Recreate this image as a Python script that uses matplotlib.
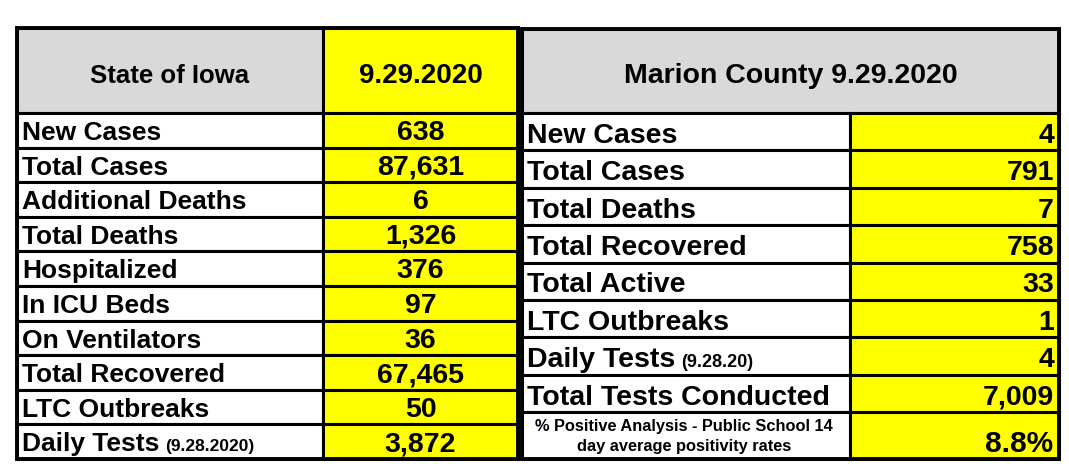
import matplotlib
matplotlib.use("Agg")
import matplotlib.pyplot as plt
from matplotlib.patches import Rectangle

plt.rcParams['font.family'] = ['Liberation Sans', 'DejaVu Sans']
plt.rcParams['font.weight'] = 'bold'

# State table
iowa_title = "State of Iowa"
iowa_date = "9.29.2020"
iowa_labels = ["New Cases", "Total Cases", "Additional Deaths", "Total Deaths",
               "Hospitalized", "In ICU Beds", "On Ventilators", "Total Recovered",
               "LTC Outbreaks", "Daily Tests"]
iowa_values = [638, 87631, 6, 1326, 376, 97, 36, 67465, 50, 3872]
iowa_notes = ["", "", "", "", "", "", "", "", "", "(9.28.2020)"]

# County table
marion_title = "Marion County 9.29.2020"
marion_labels = ["New Cases", "Total Cases", "Total Deaths", "Total Recovered",
                 "Total Active", "LTC Outbreaks", "Daily Tests", "Total Tests Conducted"]
marion_values = [4, 791, 7, 758, 33, 1, 4, 7009]
marion_notes = ["", "", "", "", "", "", "(9.28.20)", ""]
positivity_label = "% Positive Analysis - Public School 14\nday average positivity rates"
positivity_value = 8.8

YELLOW = "#FFFF00"
GRAY = "#D9D9D9"
LW = 2.2


def cell(ax, x0, y0, x1, y1, color):
    ax.add_patch(Rectangle((x0, y0), x1 - x0, y1 - y0, facecolor=color,
                           edgecolor="black", lw=LW, zorder=1))


def border(ax, x0, y0, x1, y1):
    ax.add_patch(Rectangle((x0, y0), x1 - x0, y1 - y0, fill=False,
                           edgecolor="black", lw=2.8, zorder=3))


fig = plt.figure(figsize=(10.69, 4.71), dpi=100)
ax = fig.add_axes([0, 0, 1, 1])
ax.set_xlim(0, 1069)
ax.set_ylim(471, 0)
ax.axis("off")

notes_to_place = []

# ---- left table ----
lx0, lx1, lx2 = 17, 323, 518
ltop, lhead, lbot = 28, 113, 459
cell(ax, lx0, ltop, lx1, lhead, GRAY)
cell(ax, lx1, ltop, lx2, lhead, YELLOW)
ax.text((lx0 + lx1) / 2, 83, iowa_title, fontsize=18.5, ha="center", va="baseline")
ax.text((lx1 + lx2) / 2, 83, iowa_date, fontsize=20, ha="center", va="baseline")

rh = (lbot - lhead) / len(iowa_labels)
for i, (lab, val, note) in enumerate(zip(iowa_labels, iowa_values, iowa_notes)):
    y0 = lhead + i * rh
    cell(ax, lx0, y0, lx1, y0 + rh, "white")
    cell(ax, lx1, y0, lx2, y0 + rh, YELLOW)
    yb = y0 + rh * 0.78
    t = ax.text(lx0 + 5, yb, lab, fontsize=19, ha="left", va="baseline")
    ax.text((lx1 + lx2) / 2, yb, f"{val:,}", fontsize=20.5, ha="center", va="baseline")
    if note:
        notes_to_place.append((t, yb, note, 12.5))
border(ax, lx0, ltop, lx2, lbot)

# ---- right table ----
rx0, rx1, rx2 = 522, 850, 1059
rtop, rhead, rlast, rbot = 29, 113, 412, 459
cell(ax, rx0, rtop, rx2, rhead, GRAY)
ax.text((rx0 + rx2) / 2, 83, marion_title, fontsize=20.5, ha="center", va="baseline")

rh2 = (rlast - rhead) / len(marion_labels)
for i, (lab, val, note) in enumerate(zip(marion_labels, marion_values, marion_notes)):
    y0 = rhead + i * rh2
    cell(ax, rx0, y0, rx1, y0 + rh2, "white")
    cell(ax, rx1, y0, rx2, y0 + rh2, YELLOW)
    yb = y0 + rh2 * 0.8
    t = ax.text(rx0 + 5, yb, lab, fontsize=20.5, ha="left", va="baseline")
    ax.text(rx2 - 5, yb, f"{val:,}", fontsize=20.5, ha="right", va="baseline")
    if note:
        notes_to_place.append((t, yb, note, 13))

cell(ax, rx0, rlast, rx1, rbot, "white")
cell(ax, rx1, rlast, rx2, rbot, YELLOW)
ax.text(684, (rlast + rbot) / 2 + 1, positivity_label, fontsize=11.8, ha="center",
        va="center", linespacing=1.35)
ax.text(rx2 - 6, 452, f"{positivity_value}%", fontsize=21.5, ha="right", va="baseline")
border(ax, rx0, rtop, rx2, rbot)

# small date notes placed right after their label
fig.canvas.draw()
renderer = fig.canvas.get_renderer()
inv = ax.transData.inverted()
for t, yb, note, size in notes_to_place:
    bb = t.get_window_extent(renderer)
    x_end = inv.transform((bb.x1, bb.y0))[0]
    ax.text(x_end + 6, yb, note, fontsize=size, ha="left", va="baseline")

fig.savefig("out.png", dpi=100, facecolor="white")
